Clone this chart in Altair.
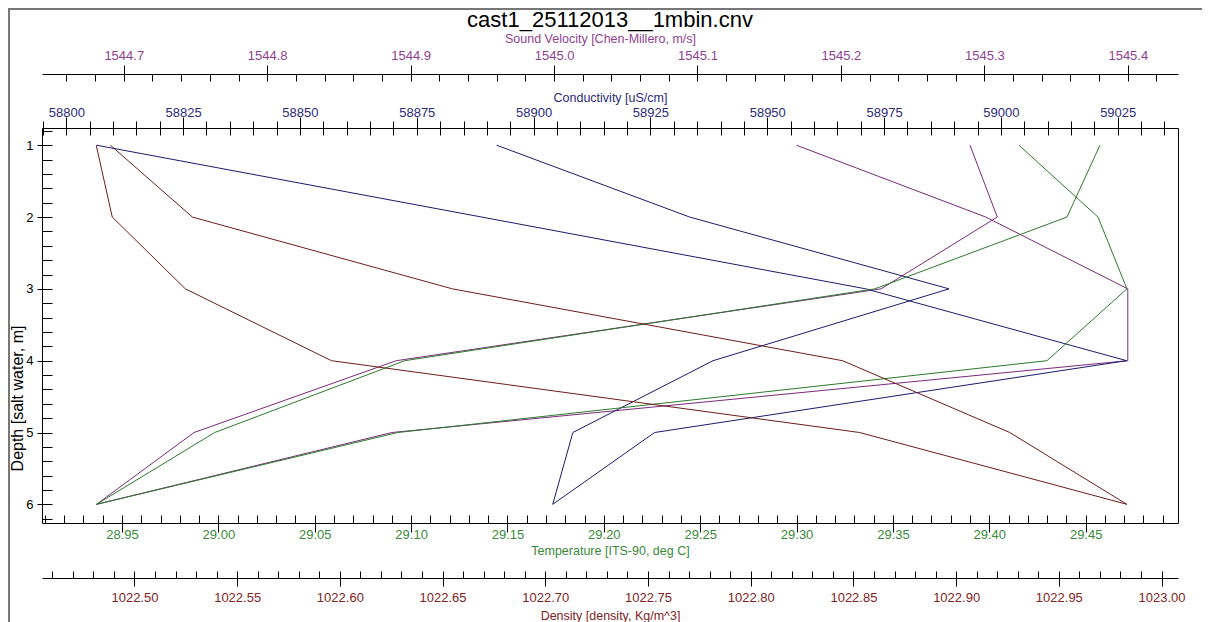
import numpy as np
import pandas as pd
import altair as alt

# ---------------- data ----------------
depth = [1, 2, 3, 4, 5, 6]

cond_cast1 = [58806.5, 58888.9, 58971.1, 59026.9, 58925.9, 58904.1]
cond_cast2 = [58892.1, 58933.4, 58988.9, 58938.4, 58908.4, 58904.1]

sv_cast1 = [1545.169, 1545.301, 1545.400, 1545.400, 1544.887, 1544.681]
sv_cast2 = [1545.290, 1545.309, 1545.228, 1544.890, 1544.749, 1544.681]

temp_cast1 = [29.4154, 29.4564, 29.4714, 29.4299, 29.0931, 28.9368]
temp_cast2 = [29.4574, 29.4403, 29.3406, 29.0967, 28.9981, 28.9368]

dens_cast1 = [1022.4814, 1022.4892, 1022.5248, 1022.5959, 1022.8530, 1022.9831]
dens_cast2 = [1022.4883, 1022.5282, 1022.6548, 1022.8447, 1022.9261, 1022.9831]

title_text = "cast1_25112013__1mbin.cnv"
sv_title = "Sound Velocity [Chen-Millero, m/s]"
cond_title = "Conductivity [uS/cm]"
temp_title = "Temperature [ITS-90, deg C]"
dens_title = "Density [density, Kg/m^3]"
depth_title = "Depth [salt water, m]"

sv_ticks = [1544.7, 1544.8, 1544.9, 1545.0, 1545.1, 1545.2, 1545.3, 1545.4]
cond_ticks = [58800, 58825, 58850, 58875, 58900, 58925, 58950, 58975, 59000, 59025]
temp_ticks = [28.95, 29.00, 29.05, 29.10, 29.15, 29.20, 29.25, 29.30, 29.35, 29.40, 29.45]
dens_ticks = [1022.50, 1022.55, 1022.60, 1022.65, 1022.70, 1022.75,
              1022.80, 1022.85, 1022.90, 1022.95, 1023.00]
depth_ticks = [1, 2, 3, 4, 5, 6]

sv_domain = [1544.643, 1545.435]
cond_domain = [58794.8, 59037.9]
temp_domain = [28.9085, 29.4979]
dens_domain = [1022.455, 1023.008]
depth_domain = [0.76, 6.26]

# ---------------- styles ----------------
W, H_PLOT = 1136, 395
PAD_L, PAD_T, PAD_R, PAD_B = 34, 120, 24, 99
FONT = "Liberation Sans"
LAB_FS = 13
TIT_FS = 12.5

sv_col, sv_lab = "#7b2a7b", "#8f3f8f"
cond_col, cond_lab = "#1b1b6e", "#2b2b7a"
temp_col, temp_lab = "#2d7a2d", "#3a8a3a"
dens_col, dens_lab = "#6e1c1c", "#7f2424"


def all_ticks(domain, step, nd):
    n0 = int(np.ceil(domain[0] / step - 1e-9))
    n1 = int(np.floor(domain[1] / step + 1e-9))
    return [round(k * step, nd) for k in range(n0, n1 + 1)]


def minor_only(allt, majors, nd):
    maj = {round(m, nd) for m in majors}
    return [t for t in allt if round(t, nd) not in maj]


sv_all = all_ticks(sv_domain, 0.02, 2)
cond_all = all_ticks(cond_domain, 5, 0)
cond_minor = minor_only(cond_all, cond_ticks, 0)
temp_all = all_ticks(temp_domain, 0.01, 2)
dens_all = all_ticks(dens_domain, 0.01, 2)
depth_all = all_ticks(depth_domain, 0.2, 1)

rows = []
for var, casts in [("sv", (sv_cast1, sv_cast2)), ("cond", (cond_cast1, cond_cast2)),
                   ("temp", (temp_cast1, temp_cast2)), ("dens", (dens_cast1, dens_cast2))]:
    for ci, vals in enumerate(casts, 1):
        for d, v in zip(depth, vals):
            rows.append({"variable": var, "cast": ci, "depth": d, "value": v})
df = pd.DataFrame(rows)
base = alt.Chart(df)


def ax(**kw):
    d = dict(grid=False, labelFlush=False, labelOverlap=False, tickColor="black",
             domainColor="black", tickWidth=1, domainWidth=1, labelFont=FONT,
             titleFont=FONT, titleFontWeight="normal")
    d.update(kw)
    return alt.Axis(**d)


def bare(orient, offset, values, size):
    return ax(orient=orient, offset=offset, values=values, tickSize=size,
              labels=False, domain=False, title=None)


def layer(var, color, domain, xaxis, yaxis=None, visible=True):
    c = base.transform_filter(alt.datum.variable == var)
    if visible:
        c = c.mark_line(color=color, strokeWidth=1)
    else:
        c = c.mark_line(opacity=0)
    return c.encode(
        x=alt.X("value:Q", scale=alt.Scale(domain=domain, nice=False, zero=False), axis=xaxis),
        y=alt.Y("depth:Q", scale=alt.Scale(domain=depth_domain, reverse=True, nice=False, zero=False),
                axis=yaxis),
        detail="cast:N",
        order="depth:Q",
    )


# sound velocity: floating axis 54 px above the plot
sv_axis = ax(orient="top", offset=54, values=sv_ticks, format=".1f", tickSize=9, domain=True,
             labelColor=sv_lab, labelFontSize=LAB_FS, labelPadding=10, labelBaseline="middle",
             title=sv_title, titleColor=sv_lab, titleFontSize=TIT_FS, titleY=-36,
             titleX=558, titleAlign="center", titleBaseline="middle")
sv_in = bare("bottom", -(H_PLOT + 54), sv_all, 7)

# conductivity: top edge of the plot
cond_axis = ax(orient="top", offset=0, values=cond_ticks, format="d", tickSize=11, domain=True,
               labelColor=cond_lab, labelFontSize=LAB_FS, labelPadding=5, labelBaseline="middle",
               title=cond_title, titleColor=cond_lab, titleFontSize=TIT_FS, titleY=-31,
               titleBaseline="middle")
cond_min = bare("top", 0, cond_minor, 7)
cond_in = bare("bottom", -H_PLOT, cond_all, 7)

# temperature: bottom edge of the plot
temp_axis = ax(orient="bottom", offset=0, values=temp_ticks, format=".2f", tickSize=9, domain=True,
               labelColor=temp_lab, labelFontSize=LAB_FS, labelPadding=2, labelBaseline="middle",
               title=temp_title, titleColor=temp_lab, titleFontSize=TIT_FS, titleY=27,
               titleBaseline="middle")
temp_in = bare("top", -H_PLOT, temp_all, 8)

# density: floating axis 55 px below the plot
dens_axis = ax(orient="bottom", offset=55, values=dens_ticks, format=".2f", tickSize=8, domain=True,
               labelColor=dens_lab, labelFontSize=LAB_FS, labelPadding=11, labelBaseline="middle",
               title=dens_title, titleColor=dens_lab, titleFontSize=TIT_FS, titleY=37,
               titleBaseline="middle")
dens_in = bare("top", -(H_PLOT + 55), dens_all, 7)

# depth axis
y_axis = ax(orient="left", values=depth_ticks, format="d", tickSize=5, domain=True,
            labelColor="black", labelFontSize=LAB_FS, labelPadding=4,
            title=depth_title, titleColor="black", titleFontSize=16, titleAngle=270,
            titleX=-25, titleY=270, titleBaseline="middle", titleAlign="center")
y_in = ax(orient="right", offset=-W, values=depth_all, tickSize=10, labels=False,
          domain=False, title=None)
y_right = ax(orient="right", offset=0, ticks=False, labels=False, domain=True, title=None)

H_TOTAL = PAD_T + H_PLOT + PAD_B
frame_df = pd.DataFrame({"k": [0]})
border_top = alt.Chart(frame_df).mark_rule(color="#777777", strokeWidth=2).encode(
    x=alt.value(-PAD_L), x2=alt.value(W + PAD_R), y=alt.value(-PAD_T + 1))
border_left = alt.Chart(frame_df).mark_rule(color="#777777", strokeWidth=2).encode(
    x=alt.value(-PAD_L + 1), y=alt.value(-PAD_T), y2=alt.value(H_TOTAL - PAD_T))

layers = [
    layer("sv", sv_col, sv_domain, sv_axis),
    layer("sv", sv_col, sv_domain, sv_in, visible=False),
    layer("cond", cond_col, cond_domain, cond_axis, y_axis),
    layer("cond", cond_col, cond_domain, cond_min, visible=False),
    layer("cond", cond_col, cond_domain, cond_in, y_in, visible=False),
    layer("temp", temp_col, temp_domain, temp_axis),
    layer("temp", temp_col, temp_domain, temp_in, y_right, visible=False),
    layer("dens", dens_col, dens_domain, dens_axis),
    layer("dens", dens_col, dens_domain, dens_in, visible=False),
    border_top,
    border_left,
]

chart = (
    alt.layer(*layers)
    .resolve_scale(x="independent", y="independent")
    .resolve_axis(x="independent", y="independent")
    .properties(
        width=W,
        height=H_PLOT,
        background="white",
        title=alt.TitleParams(title_text, fontSize=22, font=FONT, fontWeight="normal", color="black",
                              anchor="middle", frame="group", offset=-20, dy=22, baseline="alphabetic"),
        padding={"left": PAD_L, "top": PAD_T, "right": PAD_R, "bottom": PAD_B},
        autosize=alt.AutoSizeParams(type="none"),
    )
    .configure_view(stroke=None)
)

chart.save("out.html", embed_options={"renderer": "svg", "actions": False})
